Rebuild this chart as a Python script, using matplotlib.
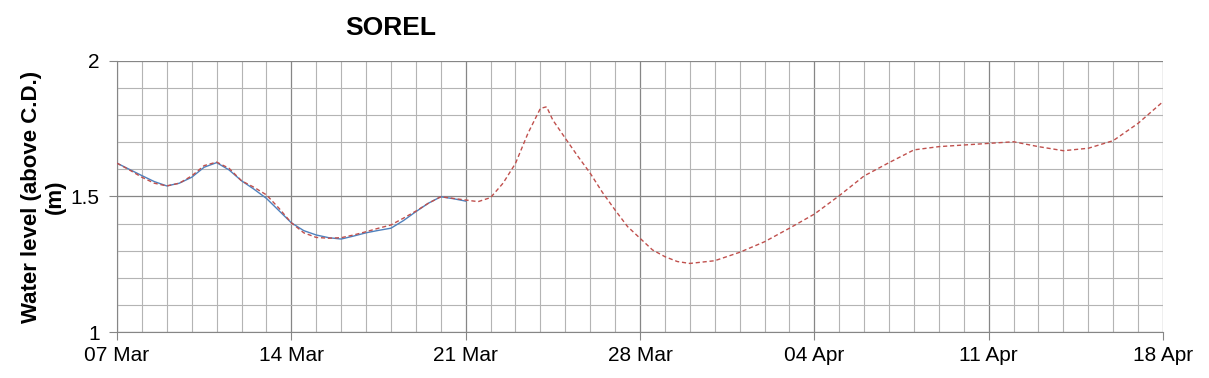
import numpy as np
import matplotlib
matplotlib.use("Agg")
from matplotlib import pyplot as plt
import matplotlib.dates as mdates
from matplotlib.ticker import MultipleLocator

plt.rcParams["font.family"] = ["Liberation Sans", "DejaVu Sans"]

START = np.datetime64("2016-03-07T00")

# observed water level (days after 07 Mar, metres above chart datum)
obs_days = [0, 0.5, 1, 1.5, 2, 2.5, 3, 3.5, 4, 4.5, 5, 5.5, 6, 6.5, 7, 7.5,
            8, 8.5, 9, 9.5, 10, 10.5, 11, 11.5, 12, 12.5, 13, 13.5, 14]
obs_level = [1.623, 1.600, 1.577, 1.555, 1.539, 1.549, 1.571, 1.608, 1.625,
             1.598, 1.558, 1.527, 1.493, 1.448, 1.403, 1.374, 1.358, 1.348,
             1.343, 1.354, 1.366, 1.375, 1.383, 1.411, 1.444, 1.475, 1.499,
             1.492, 1.483]

# forecast water level
fc_days = [0, 0.5, 1, 1.5, 2, 2.5, 3, 3.5, 4, 4.5, 5, 5.5, 6, 6.5, 7, 7.5,
           8, 8.5, 9, 9.5, 10, 10.5, 11, 11.5, 12, 12.5, 13, 13.5, 14, 14.5,
           15, 15.5, 16, 16.5, 17, 17.25, 17.5, 18, 18.5, 19, 19.5, 20, 20.5,
           21, 21.5, 22, 22.5, 23, 24, 25, 26, 27, 28, 29, 30, 31, 32, 33,
           34, 35, 36, 37, 38, 39, 40, 41, 42]
fc_level = [1.623, 1.598, 1.571, 1.549, 1.539, 1.549, 1.576, 1.614, 1.627,
            1.604, 1.558, 1.534, 1.506, 1.457, 1.403, 1.366, 1.349, 1.346,
            1.348, 1.358, 1.370, 1.383, 1.395, 1.420, 1.446, 1.475, 1.499,
            1.493, 1.487, 1.481, 1.496, 1.549, 1.622, 1.733, 1.825, 1.831,
            1.782, 1.715, 1.649, 1.586, 1.514, 1.450, 1.389, 1.346, 1.303,
            1.278, 1.260, 1.253, 1.263, 1.294, 1.333, 1.383, 1.435, 1.503,
            1.576, 1.625, 1.672, 1.684, 1.690, 1.696, 1.702, 1.684, 1.669,
            1.678, 1.706, 1.770, 1.850]

n_weeks = 6


def to_dates(days):
    hours = np.round(np.array(days) * 24).astype("timedelta64[h]")
    return START + hours


fig = plt.figure(figsize=(12.09, 3.78), dpi=100)
ax = fig.add_axes([117 / 1209, 1 - 332 / 378, 1046 / 1209, 271 / 378])

ax.plot(to_dates(obs_days), obs_level, color="#4F81BD", lw=1.0, zorder=3)
ax.plot(to_dates(fc_days), fc_level, color="#C0504D", lw=1.0,
        linestyle=(0, (3, 2)), zorder=4)

ax.set_xlim(START, START + np.timedelta64(7 * n_weeks, "D"))
ax.set_ylim(1, 2)

ax.set_xticks(to_dates([7 * k for k in range(n_weeks + 1)]))
ax.xaxis.set_minor_locator(mdates.DayLocator())
ax.xaxis.set_major_formatter(mdates.DateFormatter("%d %b"))
ax.yaxis.set_major_locator(MultipleLocator(0.5))
ax.yaxis.set_minor_locator(MultipleLocator(0.1))
ax.yaxis.set_major_formatter(plt.FuncFormatter(lambda v, p: f"{v:g}"))

ax.grid(which="major", color="#868686", lw=0.9)
ax.grid(which="minor", color="#b4b4b4", lw=0.8)
ax.set_axisbelow(True)
for side in ["top", "right"]:
    ax.spines[side].set_visible(False)
for side in ["left", "bottom"]:
    ax.spines[side].set_color("#868686")

ax.tick_params(which="major", axis="x", length=6, color="#868686", labelsize=15, pad=4)
ax.tick_params(which="major", axis="y", length=5.5, color="#868686", labelsize=15, pad=7)
ax.tick_params(which="minor", length=0)

ax.set_ylabel("Water level (above C.D.)\n(m)", fontsize=16, fontweight="bold")
ax.yaxis.set_label_coords(-0.049, 0.5)

fig.text(391 / 1209, 1 - 28 / 378, "SOREL", fontsize=19, fontweight="bold",
         ha="center", va="center")

fig.savefig("out.png", dpi=100)
